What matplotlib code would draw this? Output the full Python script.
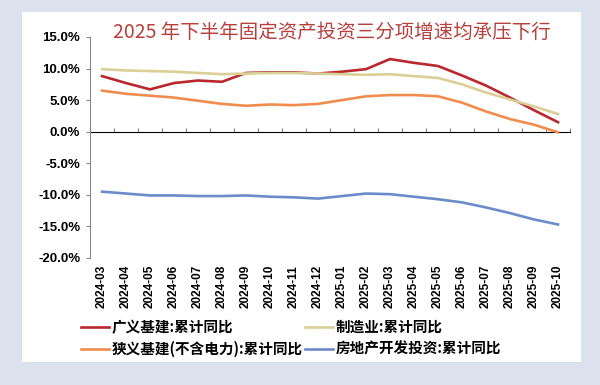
import numpy as np
import matplotlib.pyplot as plt
from matplotlib.patches import Rectangle

plt.rcParams['font.family'] = ['Noto Sans CJK SC', 'DejaVu Sans']

months = ['2024-03', '2024-04', '2024-05', '2024-06', '2024-07', '2024-08', '2024-09',
          '2024-10', '2024-11', '2024-12', '2025-01', '2025-02', '2025-03', '2025-04',
          '2025-05', '2025-06', '2025-07', '2025-08', '2025-09', '2025-10']

infra_broad = [8.8, 7.7, 6.7, 7.7, 8.1, 7.9, 9.3, 9.4, 9.4, 9.2, 9.5, 9.9, 11.5, 10.9,
               10.4, 8.9, 7.3, 5.4, 3.4, 1.5]
manufacturing = [9.9, 9.7, 9.6, 9.5, 9.3, 9.1, 9.2, 9.3, 9.3, 9.2, 9.1, 9.0, 9.1, 8.8,
                 8.5, 7.5, 6.2, 5.1, 4.0, 2.8]
infra_narrow = [6.5, 6.0, 5.7, 5.4, 4.9, 4.4, 4.1, 4.3, 4.2, 4.4, 5.0, 5.6, 5.8, 5.8,
                5.6, 4.6, 3.2, 2.0, 1.1, -0.1]
real_estate = [-9.5, -9.8, -10.1, -10.1, -10.2, -10.2, -10.1, -10.3, -10.4, -10.6, -10.2,
               -9.8, -9.9, -10.3, -10.7, -11.2, -12.0, -12.9, -13.9, -14.7]

# order so that the 2-column legend reads row-wise like the original
series = [
    ('广义基建:累计同比', infra_broad, '#b8282d'),
    ('狭义基建(不含电力):累计同比', infra_narrow, '#f08c4e'),
    ('制造业:累计同比', manufacturing, '#dad096'),
    ('房地产开发投资:累计同比', real_estate, '#6c8bc9'),
]

fig = plt.figure(figsize=(6, 3.85), dpi=100)
fig.patch.set_facecolor('#dbe2ed')
fig.patches.append(Rectangle((0.037, 0.06), 0.932, 0.909, transform=fig.transFigure,
                             facecolor='white', edgecolor='none', zorder=-5))

ax = fig.add_axes([0.15, 0.330, 0.80, 0.574])
ax.set_zorder(2)
ax.set_facecolor('none')
x = np.arange(len(months))
for name, vals, col in series:
    ax.plot(x, vals, color=col, lw=1.9, label=name)

ymin, ymax = -20, 15
ax.set_ylim(ymin, ymax)
ax.set_xlim(-0.5, len(months) - 0.5)
ax.set_yticks(np.arange(-20, 16, 5))
ax.set_yticklabels([f'{v:.1f}%' for v in np.arange(-20, 16, 5)],
                   family=['Liberation Sans', 'DejaVu Sans'], fontweight='bold', fontsize=9.5)
ax.set_xticks(x)
ax.set_xticklabels(months, rotation=90, family=['Liberation Sans', 'DejaVu Sans'],
                   fontweight='bold', fontsize=8.5)
ax.tick_params(axis='x', length=0, pad=5)
ax.tick_params(axis='y', length=3, color='#888888', direction='out', pad=4)
for s in ['top', 'right', 'bottom']:
    ax.spines[s].set_visible(False)
ax.spines['left'].set_color('#888888')

# category axis drawn at zero
zpos = (0 - ymin) / (ymax - ymin)
sec = ax.secondary_xaxis(zpos)
sec.set_xticks(np.arange(-0.5, len(months), 1.0))
sec.set_xticklabels([])
sec.tick_params(length=3, color='#888888', direction='out')
sec.spines['bottom'].set_color('#888888')

fig.text(0.553, 0.917, '2025 年下半年固定资产投资三分项增速均承压下行', ha='center', va='center',
         fontsize=14, color='#b8403c')

fig.legend(loc='upper left', bbox_to_anchor=(0.135, 0.172), ncol=2, frameon=False,
           prop={'family': ['Noto Sans CJK SC', 'DejaVu Sans'], 'weight': 'bold', 'size': 10.5},
           borderpad=0, borderaxespad=0, handlelength=1.9, handletextpad=0.2,
           columnspacing=0.15, labelspacing=0.4)

fig.savefig('out.png', dpi=100)
